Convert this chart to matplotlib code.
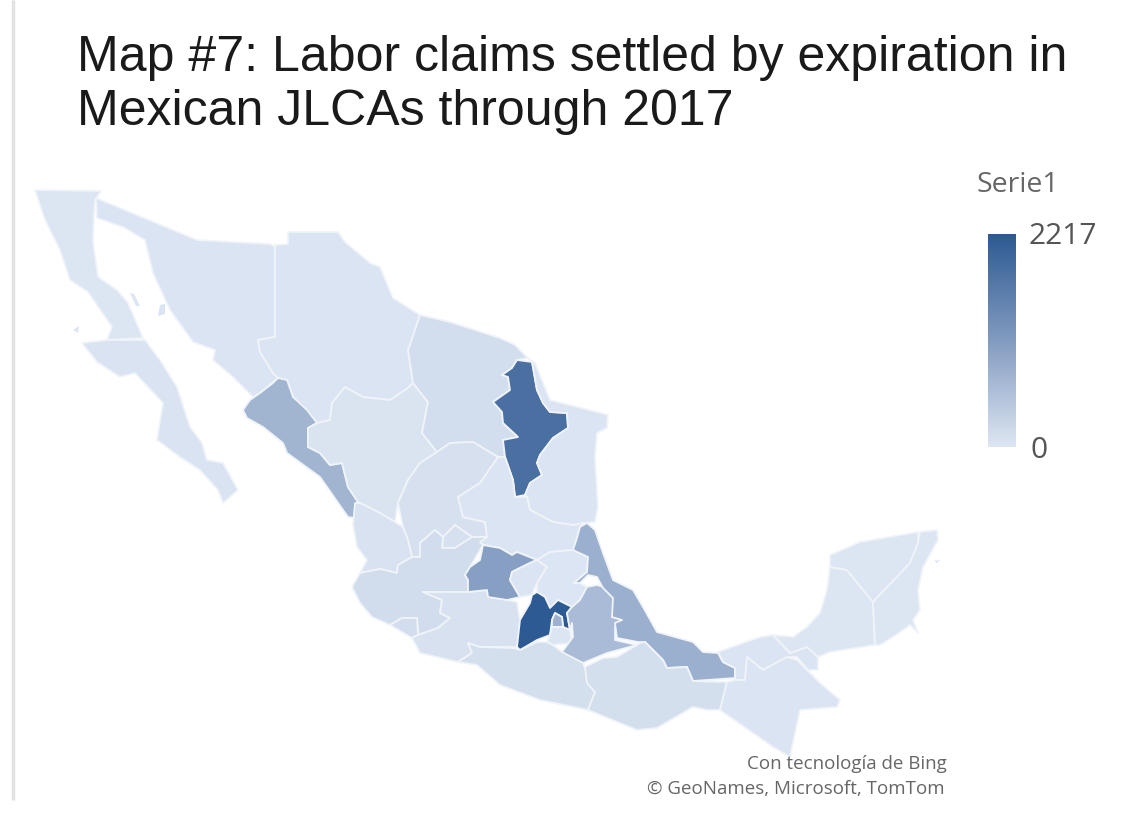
import numpy as np
import matplotlib
matplotlib.use("Agg")
import matplotlib.pyplot as plt
from matplotlib.colors import LinearSegmentedColormap, Normalize
from matplotlib.patches import Polygon

TITLE_LINES = ["Map #7: Labor claims settled by expiration in", "Mexican JLCAs through 2017"]
LEGEND_TITLE = "Serie1"
VALUE_MIN = 0
VALUE_MAX = 2217
CREDITS = ["Con tecnología de Bing", "© GeoNames, Microsoft, TomTom"]

# Claims per state
claims = {
    "Baja California": 20, "Baja California Sur": 50, "Sonora": 30, "Chihuahua": 30,
    "Sinaloa": 730, "Durango": 40, "Coahuila": 140, "Nuevo Leon": 1840,
    "Tamaulipas": 30, "Zacatecas": 90, "San Luis Potosi": 30, "Nayarit": 60,
    "Aguascalientes": 90, "Jalisco": 150, "Colima": 130, "Michoacan": 70,
    "Guanajuato": 1040, "Queretaro": 30, "Hidalgo": 15, "Estado de Mexico": 2217,
    "Ciudad de Mexico": 780, "Morelos": 20, "Tlaxcala": 20, "Puebla": 640,
    "Veracruz": 800, "Guerrero": 110, "Oaxaca": 110, "Tabasco": 30,
    "Chiapas": 30, "Campeche": 20, "Yucatan": 20, "Quintana Roo": 20,
}

# State outlines on the map's drawing plane
outlines = {
    "Baja California": [(35,190),(101,191),(95,200),(94,217),(93,242),(98,277),(117,290),(128,303),(143,338),(107,340),(112,327),(88,292),(70,280),(60,250),(45,220)],
    "Baja California Sur": [(82,343),(107,340),(145,340),(160,360),(177,387),(190,427),(202,443),(207,460),(223,463),(238,490),(223,503),(218,490),(200,470),(180,457),(157,440),(163,403),(135,373),(120,377),(97,362)],
    "Sonora": [(96,198),(197,240),(270,244),(275,247),(275,337),(258,340),(260,352),(273,373),(278,378),(260,393),(253,397),(233,377),(213,360),(215,350),(193,342),(170,310),(153,273),(145,240),(123,227),(97,218)],
    "Chihuahua": [(275,245),(288,244),(288,232),(338,232),(345,242),(370,263),(380,267),(393,298),(420,315),(410,345),(408,350),(413,383),(408,388),(390,400),(363,397),(345,387),(332,403),(330,420),(317,423),(303,407),(293,397),(287,380),(278,378),(273,373),(260,352),(258,340),(275,337)],
    "Sinaloa": [(278,378),(287,380),(293,397),(307,410),(317,423),(308,428),(308,447),(320,453),(330,465),(342,463),(348,487),(358,502),(355,518),(348,517),(320,477),(287,453),(283,443),(263,427),(247,418),(243,410),(250,400),(260,393),(273,383)],
    "Durango": [(317,423),(330,420),(332,403),(345,387),(363,397),(390,400),(408,388),(413,383),(428,402),(422,433),(437,452),(420,463),(408,480),(398,503),(395,522),(380,513),(360,503),(358,502),(348,487),(342,463),(330,465),(320,453),(308,447),(308,428)],
    "Coahuila": [(410,345),(420,315),(450,322),(500,338),(515,345),(528,358),(517,360),(512,368),(502,375),(508,377),(510,390),(493,402),(502,412),(503,423),(518,437),(503,440),(505,457),(498,457),(473,442),(450,443),(437,452),(422,433),(428,402),(413,383),(408,350)],
    "Nuevo Leon": [(517,360),(532,362),(537,390),(543,403),(550,412),(567,413),(568,428),(553,438),(540,455),(537,463),(542,475),(530,483),(525,495),(515,497),(513,480),(505,457),(503,440),(518,437),(503,423),(502,412),(493,402),(510,390),(508,377),(502,375),(512,368)],
    "Tamaulipas": [(528,358),(535,363),(550,400),(597,412),(608,415),(607,428),(597,433),(595,457),(598,507),(595,522),(585,523),(573,525),(553,522),(530,510),(527,497),(525,495),(530,483),(542,475),(537,463),(540,455),(553,438),(568,428),(567,413),(550,412),(543,403),(537,390),(532,362)],
    "Zacatecas": [(420,463),(437,452),(450,443),(473,442),(498,457),(480,483),(458,497),(463,517),(485,522),(487,537),(472,537),(455,525),(443,537),(435,530),(420,543),(420,557),(412,557),(408,540),(403,527),(398,503),(408,480)],
    "San Luis Potosi": [(498,457),(505,457),(513,480),(515,497),(527,497),(530,510),(553,522),(573,525),(585,523),(580,527),(577,538),(573,550),(550,552),(537,560),(517,552),(512,555),(500,548),(483,545),(480,542),(487,537),(485,522),(463,517),(458,497),(480,483)],
    "Nayarit": [(355,503),(360,503),(380,513),(395,522),(403,527),(408,540),(412,557),(398,565),(397,573),(380,569),(360,573),(367,560),(357,547),(353,525)],
    "Aguascalientes": [(443,537),(455,525),(472,537),(455,548),(442,548)],
    "Jalisco": [(352,587),(360,573),(380,569),(397,573),(398,565),(412,557),(420,557),(420,543),(435,530),(443,537),(442,548),(455,548),(472,537),(487,537),(480,542),(483,545),(470,567),(465,575),(468,580),(468,592),(423,592),(442,600),(440,613),(450,618),(438,628),(418,635),(417,618),(402,618),(390,625),(372,617),(360,603)],
    "Colima": [(390,625),(402,618),(417,618),(418,635),(412,638)],
    "Michoacan": [(423,592),(468,592),(487,590),(488,597),(507,600),(517,602),(520,620),(517,647),(480,647),(468,643),(472,653),(458,662),(420,653),(412,638),(418,635),(438,628),(450,618),(440,613),(442,600)],
    "Guanajuato": [(483,545),(500,548),(512,555),(517,552),(537,560),(530,563),(512,572),(510,580),(520,597),(507,600),(488,597),(487,590),(468,592),(468,580),(465,575),(470,567),(480,560)],
    "Queretaro": [(512,572),(530,563),(537,560),(547,567),(537,583),(532,595),(520,597),(510,580)],
    "Hidalgo": [(537,560),(550,552),(573,550),(588,557),(587,572),(574,583),(580,583),(587,587),(580,600),(572,607),(558,600),(550,608),(545,597),(537,592),(537,583),(547,567)],
    "Estado de Mexico": [(537,592),(545,597),(550,608),(558,600),(572,607),(567,613),(570,630),(563,627),(562,617),(555,613),(552,620),(550,635),(537,640),(520,650),(517,647),(520,620),(530,603),(532,595)],
    "Ciudad de Mexico": [(555,613),(562,617),(563,627),(552,627),(552,620)],
    "Morelos": [(552,627),(563,627),(570,630),(572,643),(553,645),(547,642),(550,635)],
    "Tlaxcala": [(580,612),(592,605),(605,615),(602,625),(590,627),(580,622)],
    "Puebla": [(572,607),(580,600),(587,587),(597,585),(607,588),(617,593),(615,607),(612,617),(625,620),(615,627),(615,640),(637,645),(607,653),(583,663),(563,655),(562,652),(573,637),(572,623),(570,630),(567,613)],
    "Veracruz": [(587,523),(595,530),(603,553),(613,580),(633,590),(643,607),(657,632),(693,642),(703,652),(718,653),(723,662),(735,668),(735,678),(693,681),(687,667),(667,668),(663,660),(645,642),(638,642),(617,638),(615,623),(622,620),(612,617),(613,598),(603,588),(597,577),(588,575),(580,583),(574,583),(587,572),(588,557),(573,550),(577,538),(580,527)],
    "Guerrero": [(468,643),(480,647),(513,648),(520,650),(537,642),(547,642),(553,645),(562,652),(583,663),(588,677),(595,693),(588,710),(540,700),(500,685),(477,665),(458,662),(472,653)],
    "Oaxaca": [(585,667),(603,658),(617,657),(640,643),(645,642),(663,660),(667,668),(687,667),(693,681),(727,682),(720,710),(707,710),(693,707),(657,728),(637,730),(588,710),(595,692),(587,683)],
    "Tabasco": [(718,652),(760,637),(773,635),(790,653),(807,647),(818,657),(818,670),(808,670),(797,657),(787,657),(763,670),(747,657),(745,680),(735,680),(735,668),(723,662)],
    "Chiapas": [(727,682),(735,680),(745,680),(747,657),(763,670),(787,657),(797,660),(820,683),(840,700),(837,707),(800,710),(790,757),(773,747),(720,710)],
    "Campeche": [(830,567),(847,570),(873,602),(875,645),(830,652),(818,657),(807,647),(790,653),(773,635),(793,637),(807,627),(820,613),(827,590)],
    "Yucatan": [(830,555),(860,542),(918,532),(918,543),(910,563),(873,602),(847,570),(830,567)],
    "Quintana Roo": [(920,532),(937,530),(938,540),(923,567),(918,590),(920,610),(913,620),(918,633),(910,625),(893,637),(880,645),(875,645),(873,602),(910,563),(918,543)],
}

# Small islands drawn without a border
islands = {
    "Cedros": ([(73,330),(79,326),(78,333)], 20),
    "Angel de la Guarda": ([(130,293),(134,294),(140,306),(136,306)], 20),
    "Tiburon": ([(160,305),(165,304),(165,314),(158,316)], 30),
    "Cozumel": ([(934,561),(940,560),(937,563)], 20),
}

claims_cmap = LinearSegmentedColormap.from_list("claims", ["#DDE6F3", "#829BC0", "#2D5A93"])
norm = Normalize(VALUE_MIN, VALUE_MAX)

fig = plt.figure(figsize=(11.26, 8.14), dpi=100, facecolor="white")
ax = fig.add_axes([0, 0, 1, 1])
ax.set_xlim(0, 1126)
ax.set_ylim(814, 0)
ax.axis("off")

# Slide edge on the left
ax.plot([13, 13], [0, 800], color="#E2E2E2", lw=2.5, solid_capstyle="butt")

for state, shape in outlines.items():
    ax.add_patch(Polygon(shape, closed=True, facecolor=claims_cmap(norm(claims[state])),
                         edgecolor="#F0F4F9", linewidth=1.3, joinstyle="round"))
for shape, value in islands.values():
    ax.add_patch(Polygon(shape, closed=True, facecolor=claims_cmap(norm(value)), edgecolor="none"))

# Title
for line, baseline in zip(TITLE_LINES, [71, 125]):
    ax.text(77, baseline, line, family="Liberation Sans", fontsize=36, color="#1A1A1A",
            ha="left", va="baseline")

# Colour legend
ramp = np.linspace(VALUE_MAX, VALUE_MIN, 256).reshape(-1, 1)
ax.imshow(ramp, cmap=claims_cmap, norm=norm, extent=(988, 1016, 447, 234), aspect="auto", zorder=2)
ax.set_xlim(0, 1126)
ax.set_ylim(814, 0)
ax.text(977, 185, LEGEND_TITLE, family="Open Sans", fontsize=20.5, color="#666666", ha="left", va="center")
ax.text(1029, 236, str(VALUE_MAX), family="Open Sans", fontsize=21.5, color="#555555", ha="left", va="center")
ax.text(1030, 451, str(VALUE_MIN), family="Open Sans", fontsize=21.5, color="#555555", ha="left", va="center")

# Map credits
ax.text(947, 764, CREDITS[0], family="Open Sans", fontsize=13.5, color="#666666", ha="right", va="center")
ax.text(945, 789, CREDITS[1], family="Open Sans", fontsize=13.5, color="#666666", ha="right", va="center")

fig.savefig("out.png", dpi=100)
